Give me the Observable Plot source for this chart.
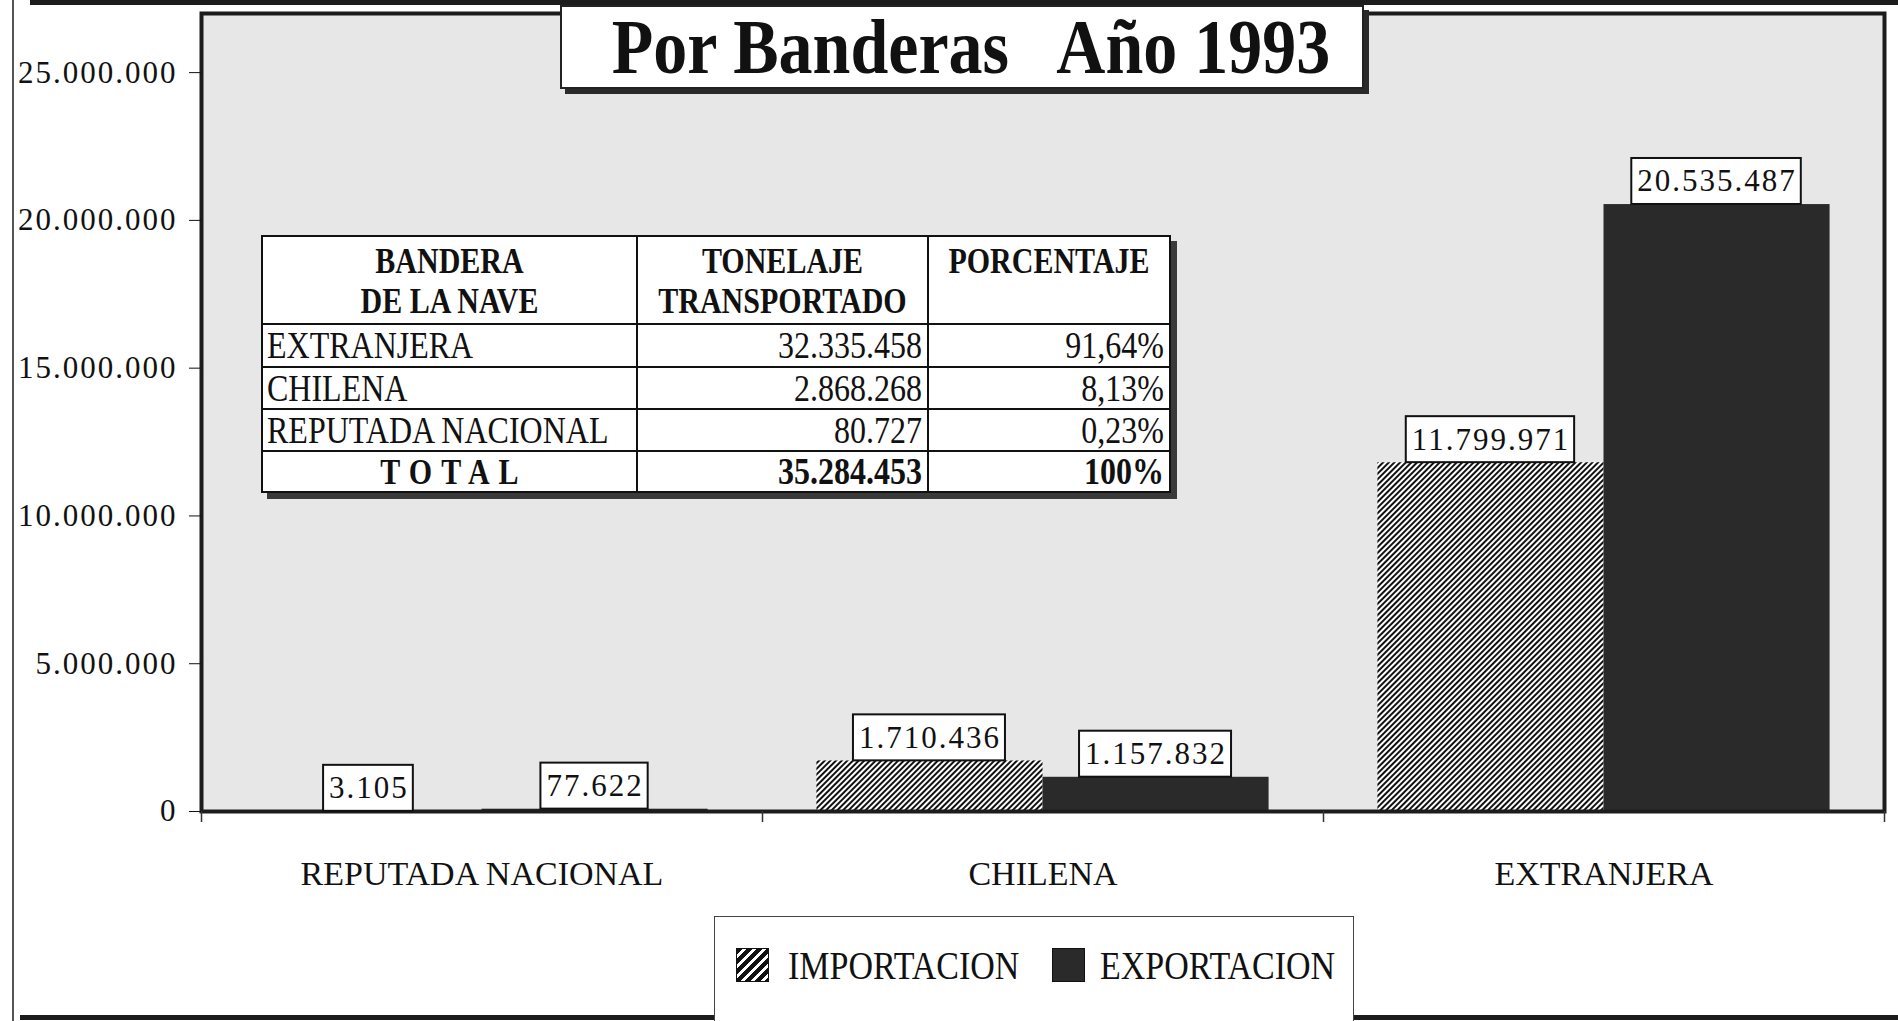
<!DOCTYPE html>
<html><head><meta charset="utf-8">
<script src="https://cdn.jsdelivr.net/npm/d3@7"></script>
<script src="https://cdn.jsdelivr.net/npm/@observablehq/plot@0.6"></script>
<style>
html,body{margin:0;padding:0;background:#fff;}
#wrap{position:relative;width:1898px;height:1021px;overflow:hidden;font-family:"Liberation Serif","Times New Roman",serif;color:#111;}
#wrap svg{position:absolute;left:0;top:0;}
g[aria-label="y-axis tick label"] text{font-size:31px;letter-spacing:2px;}
g[aria-label="x-axis tick label"] text{font-size:34px;}
g[aria-description="bar-label"] text{font-size:31px;letter-spacing:2px;}
.line{position:absolute;background:#1c1c1c;}
#title{position:absolute;left:560px;top:5px;width:800px;height:80px;background:#fff;border:2px solid #222;box-shadow:5px 5px 0 #2a2a2a;display:flex;align-items:center;justify-content:center;}
#title span{display:inline-block;font-weight:bold;font-size:68px;white-space:pre;transform:scaleY(1.15);margin-left:18px;}
#tbl{position:absolute;left:261px;top:235px;border-collapse:collapse;background:#fff;box-shadow:6px 6px 0 #3a3a3a;}
#tbl td{border:2.5px solid #111;padding:0;box-sizing:border-box;}
#tbl .h{font-weight:bold;font-size:30px;text-align:center;vertical-align:top;line-height:40px;padding-top:4px;}
#tbl .b{font-size:32px;vertical-align:middle;}
#tbl .l{text-align:left;padding-left:4px;}
#tbl .r{text-align:right;padding-right:5px;}
#tbl .c{text-align:center;}
#tbl .bold{font-weight:bold;}
.sy{display:inline-block;transform:scaleY(1.2);}
#legend{position:absolute;left:714px;top:916px;width:638px;height:120px;border:1px solid #444;background:#fff;}
.sw{position:absolute;top:31px;width:31px;height:32px;}
.lt{position:absolute;top:29px;font-size:34px;line-height:40px;}
</style></head><body>
<div id="wrap"></div>
<script>
// ---- data ----
const title = "Por Banderas   Año 1993";
const categories = ["REPUTADA NACIONAL", "CHILENA", "EXTRANJERA"];
const series = ["IMPORTACION", "EXPORTACION"];
const importacion = [3105, 1710436, 11799971];
const exportacion = [77622, 1157832, 20535487];
const yTicks = [0, 5000000, 10000000, 15000000, 20000000, 25000000];
const yMax = 27000000;
const tableHeader = [["BANDERA", "DE LA NAVE"], ["TONELAJE", "TRANSPORTADO"], ["PORCENTAJE"]];
const tableFlags = ["EXTRANJERA", "CHILENA", "REPUTADA NACIONAL"];
const tableTonnage = [32335458, 2868268, 80727];
const tablePercent = [91.64, 8.13, 0.23];
const totalLabel = "TOTAL";
const totalTonnage = 35284453;
const totalPercent = 100;

// ---- build ----
const loc = d3.formatLocale({decimal: ",", thousands: ".", grouping: [3], currency: ["", ""]});
const fmt = loc.format(",d");
const fmtPct = v => (Number.isInteger(v) ? String(v) : loc.format(".2f")(v)) + "%";

const rows = categories.flatMap((c, i) => [
  {category: c, series: series[0], value: importacion[i]},
  {category: c, series: series[1], value: exportacion[i]}
]);
const imp = rows.filter(d => d.series === series[0]);
const exp = rows.filter(d => d.series === series[1]);

const W = 1898, H = 1021, mL = 201, mR = 14, mT = 13, mB = 210;
const bw = (W - mL - mR) / categories.length;
const half = bw / 2;
const pad = bw * 0.097;
const off = (half - pad) / 2;

const svg = Plot.plot({
  width: W, height: H,
  marginLeft: mL, marginRight: mR, marginTop: mT, marginBottom: mB,
  style: {fontFamily: "Liberation Serif, Times New Roman, serif", fontSize: "31px", color: "#111", background: "transparent", overflow: "visible"},
  x: {domain: categories, padding: 0, label: null},
  y: {domain: [0, yMax], label: null},
  marks: [
    Plot.frame({fill: "#e7e7e7"}),
    Plot.barY(imp, {x: "category", y: "value", fill: "url(#hatch)", insetLeft: pad, insetRight: half}),
    Plot.barY(exp, {x: "category", y: "value", fill: "#2a2a2a", insetLeft: half, insetRight: pad}),
    Plot.frame({stroke: "#1c1c1c", strokeWidth: 4}),
    Plot.ruleX(categories, {x: d => d, y1: 0, y2: 0, dx: -half, insetBottom: -11, stroke: "#333", strokeWidth: 1.5}),
    Plot.ruleX(categories.slice(-1), {x: d => d, y1: 0, y2: 0, dx: half, insetBottom: -11, stroke: "#333", strokeWidth: 1.5}),
    Plot.axisY(yTicks, {tickFormat: fmt, tickSize: 12, tickPadding: 12, label: null}),
    Plot.axisX({anchor: "bottom", tickSize: 0, tickPadding: 49, label: null}),
    Plot.text(imp, {x: "category", y: "value", text: d => fmt(d.value), dx: -off, dy: -23, lineAnchor: "middle", fontSize: 31, ariaDescription: "bar-label", fill: "#111"}),
    Plot.text(exp, {x: "category", y: "value", text: d => fmt(d.value), dx: off, dy: -23, lineAnchor: "middle", fontSize: 31, ariaDescription: "bar-label", fill: "#111"})
  ]
});

const wrap = document.getElementById("wrap");
wrap.appendChild(svg);

const ns = "http://www.w3.org/2000/svg";
const defs = document.createElementNS(ns, "defs");
defs.innerHTML = '<pattern id="hatch" patternUnits="userSpaceOnUse" width="4" height="4" patternTransform="rotate(45)"><rect width="4" height="4" fill="#fff"/><rect width="2" height="4" fill="#111"/></pattern>';
svg.insertBefore(defs, svg.firstChild);

// white boxes behind the bar value labels
let labelTexts = Array.from(svg.querySelectorAll('g[aria-description="bar-label"] text'));
if (!labelTexts.length) {
  const groups = Array.from(svg.querySelectorAll(':scope > g[aria-label="text"]'));
  labelTexts = groups.flatMap(g => Array.from(g.querySelectorAll("text")));
}
labelTexts.forEach(t => {
  t.style.letterSpacing = "2px";
  const b = t.getBBox();
  const r = document.createElementNS(ns, "rect");
  const cy = b.y + b.height / 2;
  r.setAttribute("x", b.x - 6);
  r.setAttribute("width", b.width + 10);
  r.setAttribute("y", cy - 23);
  r.setAttribute("height", 46);
  r.setAttribute("fill", "#fff");
  r.setAttribute("stroke", "#111");
  r.setAttribute("stroke-width", 2);
  const tr = t.getAttribute("transform");
  if (tr) r.setAttribute("transform", tr);
  t.parentNode.insertBefore(r, t);
});

// outer page lines
function line(l, t, w, h, c) {
  const d = document.createElement("div");
  d.className = "line";
  Object.assign(d.style, {left: l + "px", top: t + "px", width: w + "px", height: h + "px"});
  if (c) d.style.background = c;
  wrap.appendChild(d);
}
line(30, 0, 1868, 5);
line(12, 0, 2, 1021, "#555");
line(20, 1015, 1878, 5);

// title
const tdiv = document.createElement("div");
tdiv.id = "title";
const ts = document.createElement("span");
ts.textContent = title;
tdiv.appendChild(ts);
wrap.appendChild(tdiv);

// table
const colW = [375, 291, 242];
const rowH = [88, 43, 42, 42, 41];
const tbl = document.createElement("table");
tbl.id = "tbl";
const cg = document.createElement("colgroup");
colW.forEach(w => { const c = document.createElement("col"); c.style.width = w + "px"; cg.appendChild(c); });
tbl.appendChild(cg);
function addRow(h, cells) {
  const tr = document.createElement("tr");
  tr.style.height = h + "px";
  cells.forEach(([html, cls]) => {
    const td = document.createElement("td");
    td.className = cls;
    td.innerHTML = html;
    tr.appendChild(td);
  });
  tbl.appendChild(tr);
}
addRow(rowH[0], tableHeader.map(lines => [lines.map(s => `<span class="sy">${s}</span>`).join("<br>"), "h"]));
tableFlags.forEach((f, i) => addRow(rowH[i + 1], [
  [`<span class="sy">${f}</span>`, "b l"],
  [`<span class="sy">${fmt(tableTonnage[i])}</span>`, "b r"],
  [`<span class="sy">${fmtPct(tablePercent[i])}</span>`, "b r"]
]));
addRow(rowH[4], [
  [`<span class="sy" style="font-size:30px;letter-spacing:9px;margin-left:9px">${totalLabel}</span>`, "b c bold"],
  [`<span class="sy">${fmt(totalTonnage)}</span>`, "b r bold"],
  [`<span class="sy">${fmtPct(totalPercent)}</span>`, "b r bold"]
]);
wrap.appendChild(tbl);

// legend
const lg = document.createElement("div");
lg.id = "legend";
const swatches = [
  {left: 21, bg: "repeating-linear-gradient(135deg, #111 0 4px, #fff 4px 7px)"},
  {left: 337, bg: "#2a2a2a"}
];
const textLeft = [73, 385];
series.forEach((s, i) => {
  const sw = document.createElement("div");
  sw.className = "sw";
  sw.style.left = swatches[i].left + "px";
  sw.style.background = swatches[i].bg;
  sw.style.border = "1px solid #111";
  lg.appendChild(sw);
  const lt = document.createElement("div");
  lt.className = "lt";
  lt.style.left = textLeft[i] + "px";
  lt.innerHTML = `<span class="sy">${s}</span>`;
  lg.appendChild(lt);
});
wrap.appendChild(lg);
</script>
</body></html>
